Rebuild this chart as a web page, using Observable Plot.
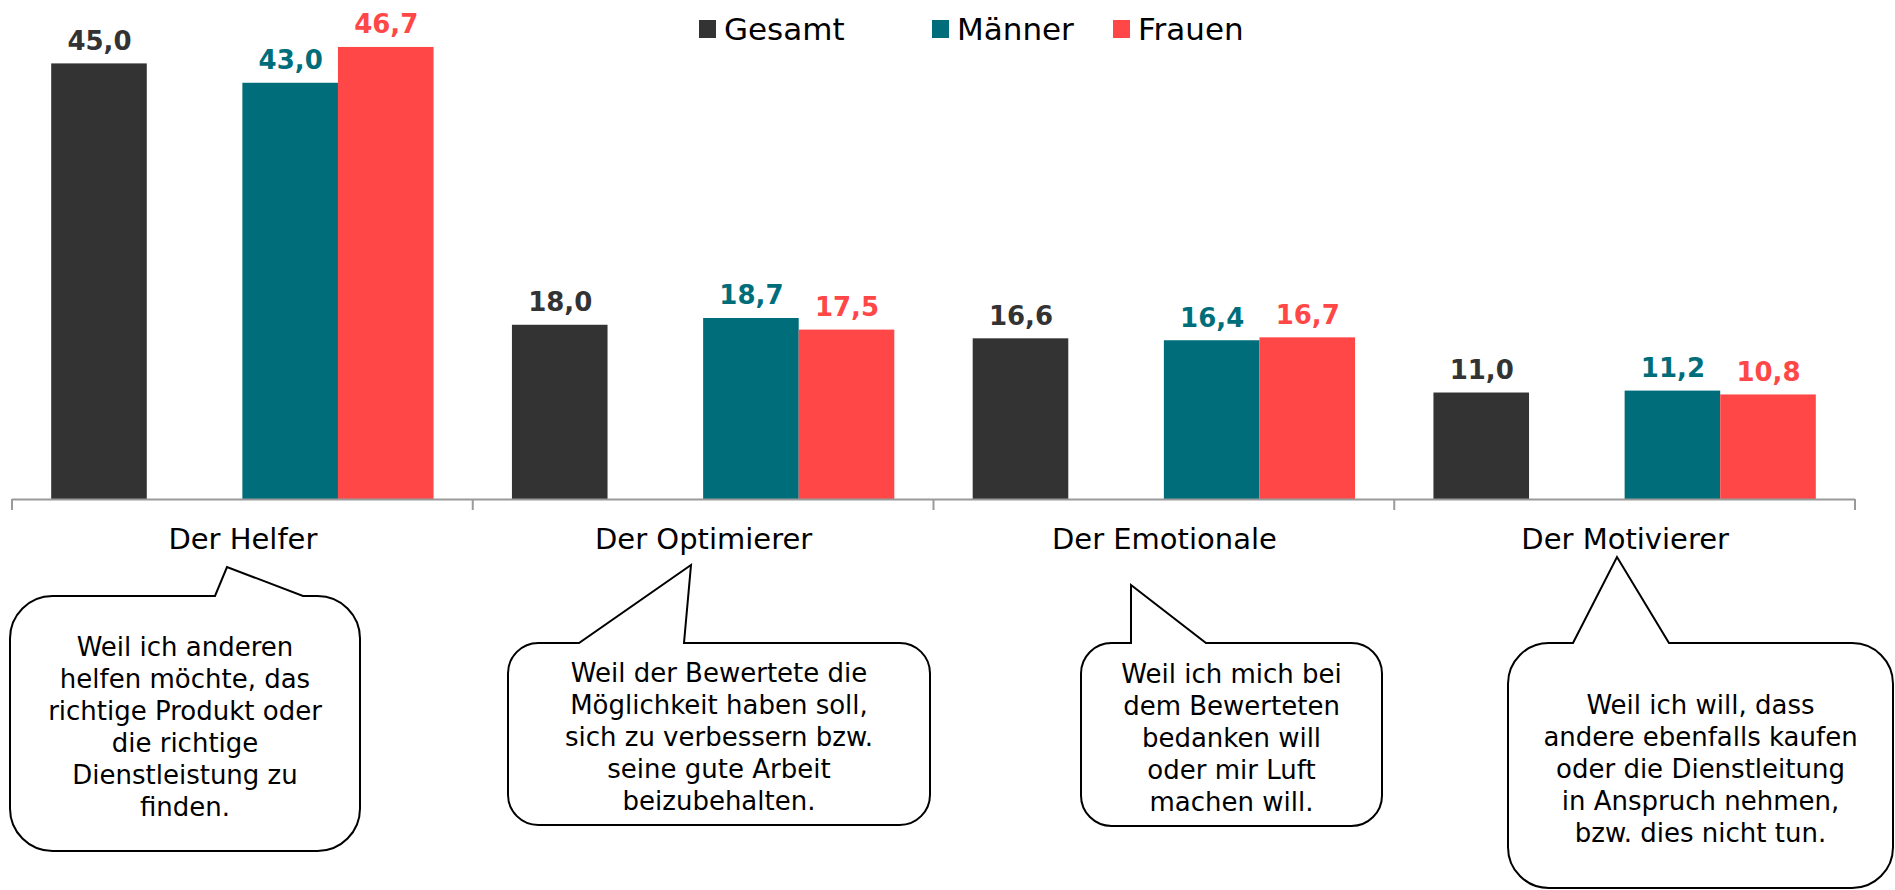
<!DOCTYPE html>
<html><head><meta charset="utf-8">
<script src="https://cdn.jsdelivr.net/npm/d3@7"></script>
<script src="https://cdn.jsdelivr.net/npm/@observablehq/plot@0.6"></script>
<style>
body{margin:0;background:#fff;font-family:"DejaVu Sans",Verdana,sans-serif;}
#wrap{position:relative;width:1895px;height:890px;overflow:hidden;background:#fff}
.lg{position:absolute;top:0;height:60px}
.lg .sw{position:absolute;top:20px;left:0;width:17px;height:18px}
.lg .tx{position:absolute;top:14px;left:25px;font-size:31px;line-height:31px;color:#000;white-space:nowrap}
</style></head><body><div id="wrap"></div>
<script>
// ---- data ----
const categories = ["Der Helfer", "Der Optimierer", "Der Emotionale", "Der Motivierer"];
const series = ["Gesamt", "Männer", "Frauen"];
const gesamt = [45.0, 18.0, 16.6, 11.0];
const maenner = [43.0, 18.7, 16.4, 11.2];
const frauen = [46.7, 17.5, 16.7, 10.8];
const colors = ["#333333", "#006E7A", "#FF4747"];
const callouts = [
  ["Weil ich anderen", "helfen möchte, das", "richtige Produkt oder", "die richtige", "Dienstleistung zu", "finden."],
  ["Weil der Bewertete die", "Möglichkeit haben soll,", "sich zu verbessern bzw.", "seine gute Arbeit", "beizubehalten."],
  ["Weil ich mich bei", "dem Bewerteten", "bedanken will", "oder mir Luft", "machen will."],
  ["Weil ich will, dass", "andere ebenfalls kaufen", "oder die Dienstleitung", "in Anspruch nehmen,", "bzw. dies nicht tun."]
];

// ---- layout (annotation geometry, px) ----
const bubbleBoxes = [
  {x0: 10, x1: 360, y0: 596, y1: 851, pl: 215, tx: 227, ty: 567, pr: 303},
  {x0: 508, x1: 930, y0: 643, y1: 825, pl: 579, tx: 691, ty: 565, pr: 684},
  {x0: 1081, x1: 1382, y0: 643, y1: 826, pl: 1131, tx: 1131, ty: 585, pr: 1206},
  {x0: 1508, x1: 1893, y0: 643, y1: 888, pl: 1573, tx: 1617, ty: 557, pr: 1669}
];
const legendLeft = [699, 932, 1113];

const seriesValues = [gesamt, maenner, frauen];
const data = categories.flatMap((c, i) =>
  series.map((s, j) => ({category: c, series: s, value: seriesValues[j][i]})));
const fmt = v => v.toFixed(1).replace(".", ",");

const chart = Plot.plot({
  width: 1895, height: 890,
  marginTop: 15, marginBottom: 391, marginLeft: 12, marginRight: 40,
  style: {fontFamily: "'DejaVu Sans', Verdana, sans-serif", background: "#fff", overflow: "visible"},
  fx: {domain: categories, padding: 0, round: false, label: null},
  x: {domain: ["Gesamt", "\u00a0", "Männer", "Frauen"], paddingInner: 0, paddingOuter: 0.41, round: false, axis: null},
  y: {domain: [0, 50], axis: null},
  color: {domain: series, range: colors},
  marks: [
    Plot.barY(data, {fx: "category", x: "series", y: "value", fill: "series"}),
    Plot.text(data, {fx: "category", x: "series", y: "value", text: d => fmt(d.value),
      fill: "series", lineAnchor: "bottom", dy: -14, fontSize: 26, fontWeight: "bold"}),
    Plot.ruleY([0], {stroke: "#9a9a9a", strokeWidth: 2}),
    Plot.axisFx({anchor: "bottom", tickSize: 0, tickPadding: 29, fontSize: 29, color: "#000", label: null})
  ]
});

document.getElementById("wrap").appendChild(chart);
const svg = d3.select(chart);

// category separator ticks from the fx scale
const fx = chart.scale("fx");
const y0 = chart.scale("y").apply(0);
const bounds = categories.map(c => fx.apply(c)).concat([fx.apply(categories[categories.length - 1]) + fx.bandwidth]);
svg.append("g").selectAll("line").data(bounds).join("line")
  .attr("x1", d => d).attr("x2", d => d).attr("y1", y0).attr("y2", y0 + 11)
  .attr("stroke", "#9a9a9a").attr("stroke-width", 2);

// speech bubbles
function bubblePath(b) {
  const r = Math.min(b.x1 - b.x0, b.y1 - b.y0) / 6;
  return `M${b.x0 + r},${b.y0} L${b.pl},${b.y0} L${b.tx},${b.ty} L${b.pr},${b.y0} L${b.x1 - r},${b.y0}`
    + ` A${r},${r} 0 0 1 ${b.x1},${b.y0 + r} L${b.x1},${b.y1 - r}`
    + ` A${r},${r} 0 0 1 ${b.x1 - r},${b.y1} L${b.x0 + r},${b.y1}`
    + ` A${r},${r} 0 0 1 ${b.x0},${b.y1 - r} L${b.x0},${b.y0 + r}`
    + ` A${r},${r} 0 0 1 ${b.x0 + r},${b.y0} Z`;
}
const g = svg.append("g");
bubbleBoxes.forEach((b, i) => {
  g.append("path").attr("d", bubblePath(b)).attr("fill", "#fff").attr("stroke", "#000").attr("stroke-width", 2);
  const lines = callouts[i];
  const lh = 32;
  const cx = (b.x0 + b.x1) / 2;
  const cy = (b.y0 + b.y1) / 2 + 3;
  const t = g.append("text").attr("text-anchor", "middle").attr("font-size", 26).attr("fill", "#000")
    .attr("font-family", "'DejaVu Sans', Verdana, sans-serif");
  lines.forEach((ln, k) => {
    t.append("tspan").attr("x", cx).attr("y", cy + (k - (lines.length - 1) / 2) * lh).attr("dy", "0.35em").text(ln);
  });
});

// legend
const wrap = d3.select("#wrap");
series.forEach((s, i) => {
  const it = wrap.append("div").attr("class", "lg").style("left", legendLeft[i] + "px");
  it.append("div").attr("class", "sw").style("background", colors[i]);
  it.append("div").attr("class", "tx").text(s);
});
</script></body></html>
